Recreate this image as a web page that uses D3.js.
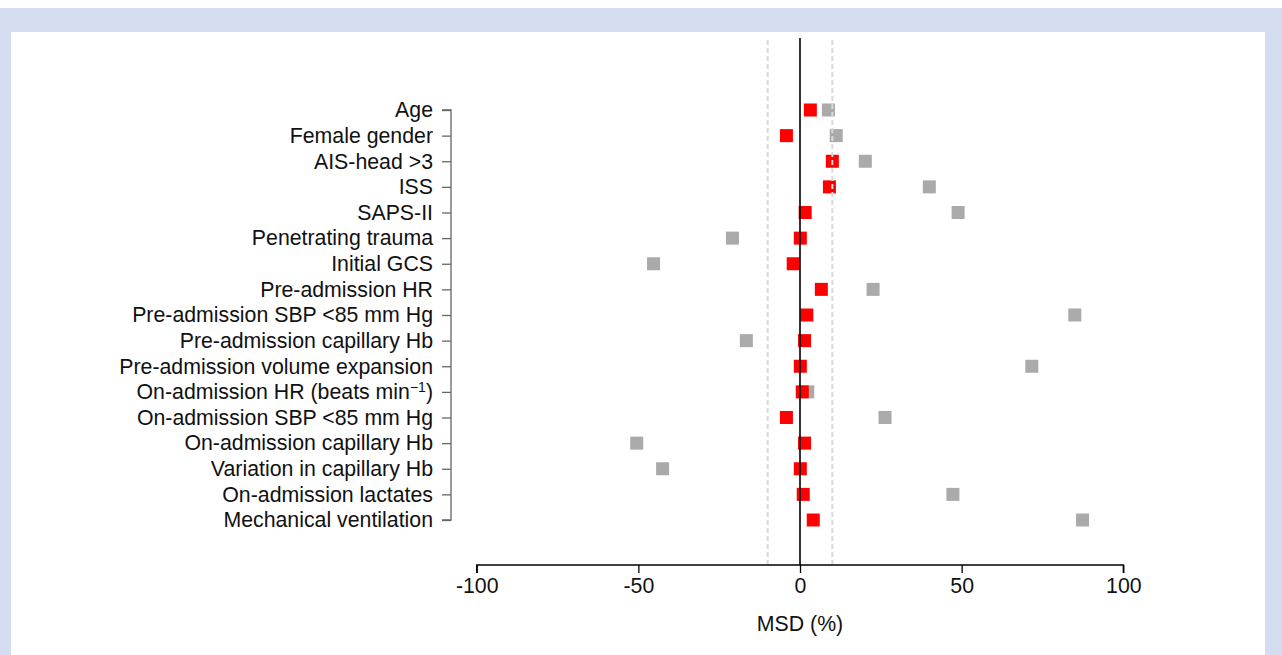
<!DOCTYPE html>
<html>
<head>
<meta charset="utf-8">
<script src="https://cdn.jsdelivr.net/npm/d3@7"></script>
<style>
    body { margin: 0; background: #fff; }
    svg text { font-family: "Liberation Sans", Arial, sans-serif; fill: #111; }
</style>
</head>
<body>
<div id="chart"></div>
<script>
// covariates, top to bottom
const labels = [
    "Age", "Female gender", "AIS-head >3", "ISS", "SAPS-II", "Penetrating trauma",
    "Initial GCS", "Pre-admission HR", "Pre-admission SBP <85 mm Hg",
    "Pre-admission capillary Hb", "Pre-admission volume expansion",
    "On-admission HR (beats min-1)", "On-admission SBP <85 mm Hg",
    "On-admission capillary Hb", "Variation in capillary Hb",
    "On-admission lactates", "Mechanical ventilation"
];
// MSD (%) before matching (grey)
const msdBefore = [8.8, 11.2, 20.2, 40.0, 48.9, -20.9, -45.3, 22.6, 85.0, -16.6, 71.7, 2.4, 26.3, -50.5, -42.5, 47.3, 87.4];
// MSD (%) after matching (red)
const msdAfter = [3.2, -4.2, 10.0, 9.1, 1.6, 0.1, -2.1, 6.6, 2.1, 1.4, 0.1, 0.7, -4.2, 1.4, 0.1, 1.0, 4.1];
const xTicks = [-100, -50, 0, 50, 100];
const refLines = [-10, 10];

const W = 1282, H = 655;
const fontSize = 21.3;
const svg = d3.select("#chart").append("svg")
    .attr("width", W)
    .attr("height", H);

// background frame
svg.append("rect").attr("x", 0).attr("y", 8).attr("width", W).attr("height", H - 8).attr("fill", "#d4ddef");
svg.append("rect").attr("x", 11).attr("y", 32).attr("width", 1254).attr("height", H - 32).attr("fill", "#fff");

let x = d3.scaleLinear().domain([-100, 100]).range([476.7, 1123.3]);
let y = d3.scalePoint().domain(labels).range([110, 520]);
const axisY = 565;
const sz = 13;

// grey points (before)
svg.append("g").selectAll("rect")
    .data(msdBefore)
    .join("rect")
    .attr("x", d => x(d) - sz / 2)
    .attr("y", (d, i) => y(labels[i]) - sz / 2)
    .attr("width", sz).attr("height", sz)
    .attr("fill", "#aaaaaa");

// red points (after)
svg.append("g").selectAll("rect")
    .data(msdAfter)
    .join("rect")
    .attr("x", d => x(d) - sz / 2)
    .attr("y", (d, i) => y(labels[i]) - sz / 2)
    .attr("width", sz).attr("height", sz)
    .attr("fill", "#ff0000");

// reference lines at +-10%
svg.append("g").selectAll("line")
    .data(refLines)
    .join("line")
    .attr("x1", d => x(d)).attr("x2", d => x(d))
    .attr("y1", 40).attr("y2", axisY)
    .attr("stroke", "#d9d9d9")
    .attr("stroke-width", 2)
    .attr("stroke-dasharray", "5,3");

svg.append("line")
    .attr("x1", x(0)).attr("x2", x(0))
    .attr("y1", 38).attr("y2", axisY)
    .attr("stroke", "#000")
    .attr("stroke-width", 1.6);

// x axis
let xAxis = svg.append("g")
    .attr("transform", "translate(0," + axisY + ")")
    .call(d3.axisBottom(x).tickValues(xTicks).tickSize(8).tickPadding(5).tickFormat(d3.format("d")));
xAxis.select(".domain").attr("stroke", "#000").attr("stroke-width", 1.3)
    .attr("d", "M" + x(-100) + ",8V0H" + x(100) + "V8");
xAxis.selectAll(".tick line").attr("stroke", "#000").attr("stroke-width", 1.3);
xAxis.selectAll(".tick text").attr("font-size", fontSize).attr("fill", "#111")
    .attr("font-family", "Liberation Sans, Arial, sans-serif")
    .text(d => d < 0 ? "-" + Math.abs(d) : d);

svg.append("text")
    .attr("x", x(0)).attr("y", 631)
    .attr("text-anchor", "middle")
    .attr("font-size", fontSize)
    .text("MSD (%)");

// y axis
let yAxis = svg.append("g")
    .attr("transform", "translate(451,0)")
    .call(d3.axisLeft(y).tickSize(9).tickPadding(9));
yAxis.select(".domain").attr("stroke", "#666").attr("stroke-width", 1.3)
    .attr("d", "M-9," + y(labels[0]) + "H0V" + y(labels[labels.length - 1]) + "H-9");
yAxis.selectAll(".tick line").attr("stroke", "#666").attr("stroke-width", 1.3);
yAxis.selectAll(".tick text")
    .attr("font-size", fontSize).attr("fill", "#111")
    .attr("font-family", "Liberation Sans, Arial, sans-serif")
    .each(function (d) {
        let t = d3.select(this);
        if (d.endsWith("min-1)")) {
            t.text("On-admission HR (beats min");
            t.append("tspan").attr("font-size", 14).attr("dy", -7).text("\u22121");
            t.append("tspan").attr("dy", 7).text(")");
        }
    });
</script>
</body>
</html>
